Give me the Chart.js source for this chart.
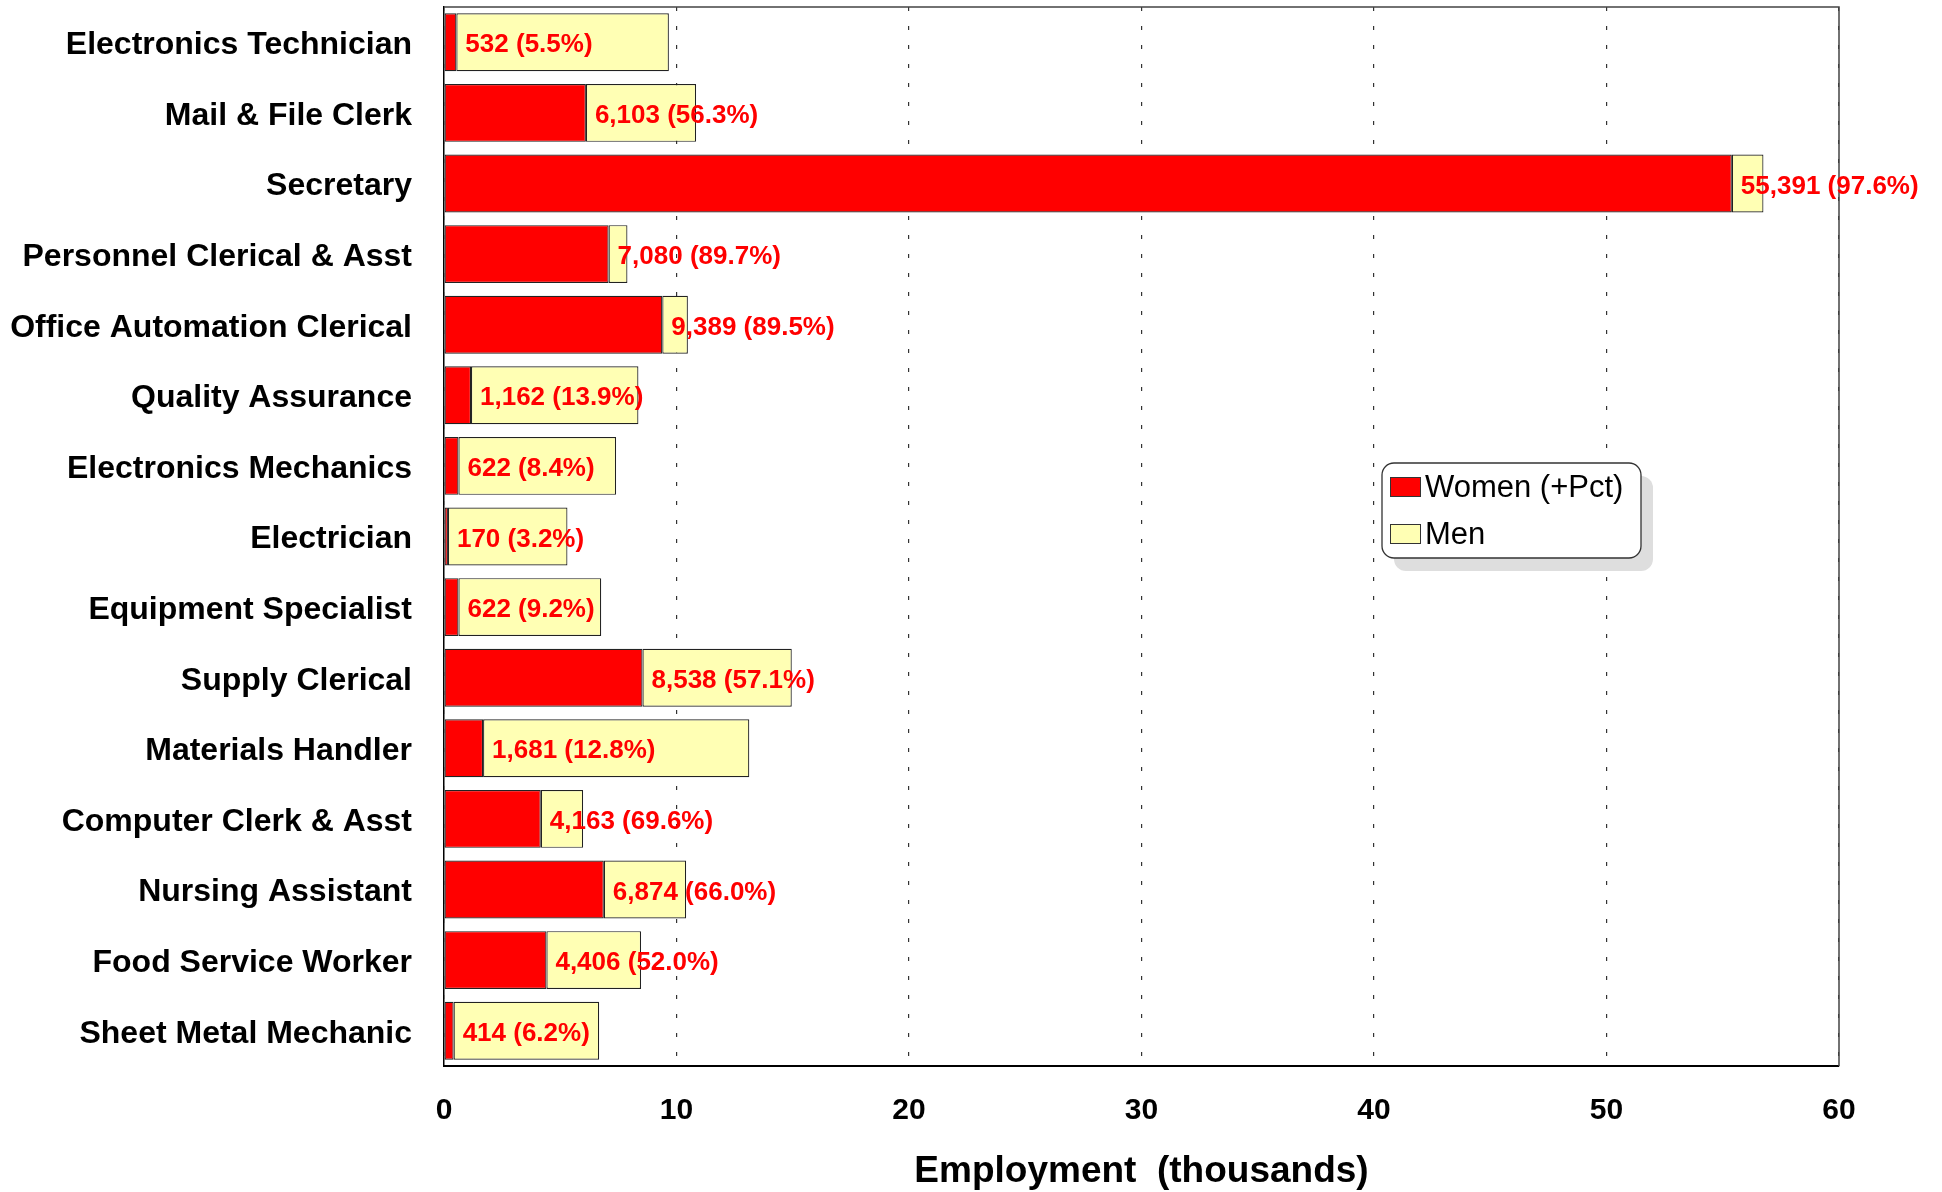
<!DOCTYPE html>
<html>
<head>
<meta charset="utf-8">
<title>Employment (thousands)</title>
<script src="https://cdn.jsdelivr.net/npm/chart.js@4.4.1/dist/chart.umd.min.js"></script>
<style>
  html, body { margin: 0; padding: 0; background: #fff; }
  #caja { width: 1942px; height: 1192px; }
</style>
</head>
<body>
<div id="caja"><canvas id="grafico"></canvas></div>
<script>
const ocupaciones = [
  "Electronics Technician", "Mail & File Clerk", "Secretary", "Personnel Clerical & Asst",
  "Office Automation Clerical", "Quality Assurance", "Electronics Mechanics", "Electrician",
  "Equipment Specialist", "Supply Clerical", "Materials Handler", "Computer Clerk & Asst",
  "Nursing Assistant", "Food Service Worker", "Sheet Metal Mechanic"
];
const mujeres = [532, 6103, 55391, 7080, 9389, 1162, 622, 170, 622, 8538, 1681, 4163, 6874, 4406, 414];
const porcentajes = [5.5, 56.3, 97.6, 89.7, 89.5, 13.9, 8.4, 3.2, 9.2, 57.1, 12.8, 69.6, 66.0, 52.0, 6.2];
const hombres = [9140, 4740, 1360, 810, 1100, 7200, 6780, 5140, 6140, 6420, 11450, 1820, 3540, 4070, 6260];
const marcasX = [0, 10, 20, 30, 40, 50, 60];

const fuente = '"Liberation Sans", Arial, Helvetica, sans-serif';

// etiquetas rojas con el numero de mujeres y el porcentaje
const etiquetasMujeres = {
  id: 'etiquetasMujeres',
  afterDatasetsDraw(chart) {
    const ctx = chart.ctx;
    const meta = chart.getDatasetMeta(0);
    ctx.save();
    ctx.font = 'bold 26px ' + fuente;
    ctx.fillStyle = '#ff0000';
    ctx.textAlign = 'left';
    ctx.textBaseline = 'middle';
    meta.data.forEach((barra, i) => {
      const texto = mujeres[i].toLocaleString('en-US') + ' (' + porcentajes[i].toFixed(1) + '%)';
      ctx.fillText(texto, barra.x + 9, barra.y + 3);
    });
    ctx.restore();
  }
};

const marco = {
  id: 'marco',
  beforeDatasetsDraw(chart) {
    const {ctx, chartArea} = chart;
    ctx.save();
    ctx.strokeStyle = '#444';
    ctx.lineWidth = 1.5;
    ctx.beginPath();
    ctx.moveTo(chartArea.left, chartArea.top);
    ctx.lineTo(chartArea.right, chartArea.top);
    ctx.lineTo(chartArea.right, chartArea.bottom);
    ctx.stroke();
    ctx.restore();
  }
};

const leyenda = {
  id: 'leyenda',
  afterDraw(chart) {
    const {ctx, chartArea} = chart;
    const x = chartArea.left + 938, y = chartArea.top + 456, w = 259, h = 95, r = 12;
    ctx.save();
    ctx.fillStyle = '#dedede';
    ctx.beginPath();
    ctx.roundRect(x + 12, y + 13, w, h, r);
    ctx.fill();
    ctx.fillStyle = '#ffffff';
    ctx.strokeStyle = '#333';
    ctx.lineWidth = 1.3;
    ctx.beginPath();
    ctx.roundRect(x, y, w, h, r);
    ctx.fill();
    ctx.stroke();
    ctx.font = '31px ' + fuente;
    ctx.textBaseline = 'middle';
    ctx.textAlign = 'left';
    chart.data.datasets.forEach((ds, i) => {
      const fy = y + 14 + i * 47;
      ctx.fillStyle = ds.backgroundColor;
      ctx.fillRect(x + 8, fy, 30, 19);
      ctx.strokeStyle = '#333';
      ctx.lineWidth = 1;
      ctx.strokeRect(x + 8.5, fy + 0.5, 30, 19);
      ctx.fillStyle = '#000';
      ctx.fillText(ds.label, x + 43, fy + 11);
    });
    ctx.restore();
  }
};

const ctx = document.getElementById('grafico').getContext('2d');
const grafico = new Chart(ctx, {
  type: 'bar',
  data: {
    labels: ocupaciones,
    datasets: [
      {
        label: 'Women (+Pct)',
        data: mujeres.map(v => v / 1000),
        backgroundColor: '#ff0000',
        borderColor: '#222',
        borderWidth: 1.2,
        borderSkipped: false,
        barPercentage: 0.82,
        categoryPercentage: 1
      },
      {
        label: 'Men',
        data: hombres.map(v => v / 1000),
        backgroundColor: '#ffffb4',
        borderColor: '#222',
        borderWidth: 1.2,
        borderSkipped: false,
        barPercentage: 0.82,
        categoryPercentage: 1
      }
    ]
  },
  options: {
    indexAxis: 'y',
    responsive: true,
    maintainAspectRatio: false,
    animation: false,
    layout: { padding: { left: 0, right: 103, top: 7, bottom: 0 } },
    plugins: {
      legend: { display: false },
      tooltip: { enabled: false }
    },
    scales: {
      x: {
        stacked: true,
        min: 0,
        max: 60,
        afterBuildTicks: escala => { escala.ticks = marcasX.map(v => ({ value: v })); },
        afterFit: escala => { escala.height = 126; },
        grid: {
          color: '#333',
          lineWidth: 1.2,
          drawTicks: false
        },
        border: { color: '#000', width: 2, dash: [4, 15] },
        ticks: {
          color: '#000',
          padding: 27,
          font: { family: fuente, size: 30, weight: 'bold' }
        },
        title: {
          display: true,
          text: 'Employment  (thousands)',
          color: '#000',
          padding: { top: 0, bottom: 2 },
          font: { family: fuente, size: 37, weight: 'bold', lineHeight: 1 }
        }
      },
      y: {
        stacked: true,
        afterFit: escala => {
          escala.width = 444;
          escala.paddingTop = 0;
          escala.paddingBottom = 0;
        },
        grid: { display: false, drawTicks: false },
        border: { color: '#000', width: 1.5 },
        ticks: {
          color: '#000',
          padding: 32,
          labelOffset: 3,
          autoSkip: false,
          font: { family: fuente, size: 32, weight: 'bold' }
        }
      }
    }
  },
  plugins: [marco, etiquetasMujeres, leyenda]
});
</script>
</body>
</html>
